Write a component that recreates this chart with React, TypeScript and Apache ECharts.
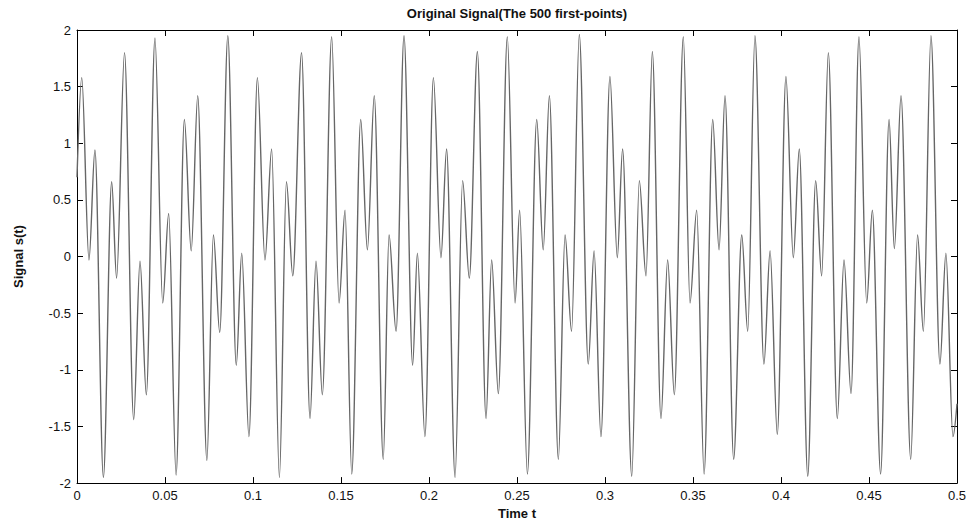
import React, { useEffect, useRef } from "react";
import * as echarts from "echarts";

// Local extrema of the signal (time in s, value)
const times: number[] = [
  0.0, 0.0027, 0.0068, 0.0102, 0.015, 0.0197, 0.0225, 0.027, 0.0322, 0.0358, 0.0394, 0.0443,
  0.0487, 0.0521, 0.0563, 0.061, 0.0649, 0.0686, 0.0738, 0.0775, 0.0811, 0.0857, 0.0905, 0.0936, 0.0977,
  0.1025, 0.1068, 0.1106, 0.115, 0.119, 0.1226, 0.1276, 0.1324, 0.1358, 0.1394, 0.1447, 0.1489,
  0.1523, 0.1561, 0.1612, 0.165, 0.1689, 0.174, 0.1773, 0.1813, 0.1858, 0.1907, 0.1934, 0.1977,
  0.2025, 0.2068, 0.21, 0.2148, 0.2191, 0.2229, 0.2275, 0.2324, 0.2356, 0.2394, 0.2445, 0.2489,
  0.2515, 0.2559, 0.2612, 0.2649, 0.2684, 0.2735, 0.2773, 0.281, 0.2854, 0.2905, 0.2938, 0.2977,
  0.3028, 0.307, 0.31, 0.3152, 0.3195, 0.3233, 0.3269, 0.3318, 0.3356, 0.3394, 0.3445, 0.3483,
  0.3521, 0.3563, 0.3612, 0.3648, 0.3682, 0.3731, 0.3777, 0.3811, 0.3852, 0.3903, 0.3938, 0.3979,
  0.4028, 0.407, 0.4104, 0.4152, 0.4197, 0.4231, 0.4269, 0.432, 0.4358, 0.4398, 0.4443, 0.4487,
  0.4519, 0.4566, 0.4614, 0.4644, 0.4682, 0.4737, 0.4776, 0.4809, 0.4852, 0.4903, 0.4937, 0.4977,
  0.5,
];
const signal: number[] = [
  0.7, 1.58, -0.03, 0.94, -1.95, 0.66, -0.19, 1.8, -1.44, -0.04, -1.22, 1.93,
  -0.41, 0.38, -1.93, 1.21, 0.05, 1.42, -1.8, 0.19, -0.67, 1.95, -0.96, 0.03, -1.59,
  1.58, -0.03, 0.95, -1.95, 0.66, -0.17, 1.8, -1.43, -0.04, -1.22, 1.94, -0.41,
  0.41, -1.92, 1.21, 0.06, 1.42, -1.79, 0.19, -0.66, 1.95, -0.96, 0.03, -1.59,
  1.58, -0.01, 0.95, -1.95, 0.67, -0.19, 1.81, -1.43, -0.03, -1.21, 1.94, -0.41,
  0.41, -1.92, 1.21, 0.06, 1.42, -1.79, 0.19, -0.66, 1.96, -0.95, 0.05, -1.59,
  1.59, -0.01, 0.95, -1.94, 0.67, -0.17, 1.81, -1.43, -0.03, -1.22, 1.94, -0.41,
  0.41, -1.92, 1.21, 0.06, 1.42, -1.79, 0.19, -0.66, 1.95, -0.95, 0.05, -1.57,
  1.59, -0.01, 0.95, -1.94, 0.67, -0.17, 1.8, -1.43, -0.03, -1.21, 1.94, -0.41,
  0.41, -1.92, 1.21, 0.07, 1.42, -1.79, 0.19, -0.66, 1.95, -0.95, 0.03, -1.59,
  -1.3,
];

const titleText = "Original Signal(The 500 first-points)";
const xName = "Time t";
const yName = "Signal s(t)";

const FONT = "'Liberation Sans', Arial, Helvetica, sans-serif";

export default function App() {
  const ref = useRef<HTMLDivElement>(null);
  useEffect(() => {
    if (!ref.current) return;
    const chart = echarts.init(ref.current, undefined, { renderer: "svg" });
    const data = times.map((t, i) => [t, signal[i]]);
    const fmtX = (v: number) => String(+v.toFixed(2));
    const fmtY = (v: number) => String(+v.toFixed(1));
    const axisLine = () => ({ show: true, onZero: false, lineStyle: { color: "#000", width: 1 } });
    const tickIn = () => ({ show: true, inside: true, length: 6, lineStyle: { color: "#000", width: 1 } });
    chart.setOption({
      animation: false,
      backgroundColor: "#fff",
      grid: { left: 77, right: 16, top: 30, bottom: 38, containLabel: false },
      graphic: [
        {
          type: "text",
          x: 517,
          y: 13,
          style: {
            text: titleText,
            fontFamily: FONT,
            fontSize: 13,
            fontWeight: "bold",
            fill: "#111",
            align: "center",
            verticalAlign: "middle",
          },
        },
      ],
      xAxis: [
        {
          type: "value",
          position: "bottom",
          min: 0,
          max: 0.5,
          interval: 0.05,
          name: xName,
          nameLocation: "middle",
          nameGap: 20,
          nameTextStyle: { fontFamily: FONT, fontSize: 13, fontWeight: "bold", color: "#111" },
          axisLine: axisLine(),
          axisTick: tickIn(),
          splitLine: { show: false },
          axisLabel: { formatter: fmtX, margin: 6, fontFamily: FONT, fontSize: 13, color: "#111" },
        },
        {
          type: "value",
          position: "top",
          min: 0,
          max: 0.5,
          interval: 0.05,
          axisLine: axisLine(),
          axisTick: tickIn(),
          splitLine: { show: false },
          axisLabel: { show: false },
        },
      ],
      yAxis: [
        {
          type: "value",
          position: "left",
          min: -2,
          max: 2,
          interval: 0.5,
          name: yName,
          nameLocation: "middle",
          nameGap: 52,
          nameTextStyle: { fontFamily: FONT, fontSize: 13, fontWeight: "bold", color: "#111" },
          axisLine: axisLine(),
          axisTick: tickIn(),
          splitLine: { show: false },
          axisLabel: { formatter: fmtY, margin: 6, fontFamily: FONT, fontSize: 13, color: "#111" },
        },
        {
          type: "value",
          position: "right",
          min: -2,
          max: 2,
          interval: 0.5,
          axisLine: axisLine(),
          axisTick: tickIn(),
          splitLine: { show: false },
          axisLabel: { show: false },
        },
      ],
      series: [
        {
          type: "line",
          data,
          xAxisIndex: 0,
          yAxisIndex: 0,
          showSymbol: false,
          smooth: 0.33,
          smoothMonotone: "x",
          lineStyle: { color: "#666", width: 1.4 },
        },
      ],
    });
    return () => chart.dispose();
  }, []);
  return (
    <div
      ref={ref}
      style={{ position: "fixed", left: 0, top: 0, width: 973, height: 525, background: "#fff" }}
    />
  );
}
